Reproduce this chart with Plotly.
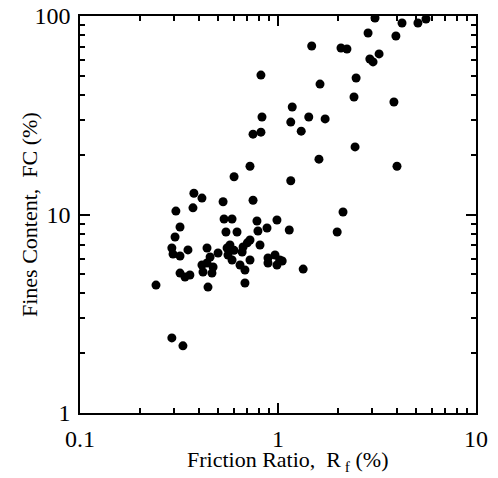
import plotly.graph_objects as go

# friction ratio Rf (%) vs fines content FC (%)
rf = [3.09, 4.23, 5.09, 5.59, 2.85, 3.94, 1.48, 2.08, 2.23, 3.24,
      2.91, 3.02, 0.82, 2.48, 1.63, 2.42, 3.85, 1.18, 0.83, 1.16,
      1.43, 1.73, 0.748, 0.82, 1.31, 2.45, 1.61, 0.722, 3.99, 0.60,
      1.16, 0.376, 0.413, 0.528, 0.748, 0.372, 0.305, 2.13, 0.534, 0.586,
      0.783, 0.988, 0.320, 1.14, 1.99, 0.546, 0.621, 0.88, 0.792, 0.302,
      1.05, 1.34, 0.291, 0.295, 0.320, 0.351, 0.438, 0.454, 0.498, 0.553,
      0.413, 0.470, 0.418, 0.464, 0.320, 0.359, 0.339, 0.443, 0.242, 0.811,
      0.722, 0.666, 0.572, 0.559, 0.659, 0.586, 0.643, 0.722, 0.681, 0.890,
      0.966, 1.02, 0.890, 0.988, 0.681, 0.291, 0.331, 0.438, 0.60, 0.70]
fc = [97.7, 92.2, 92.2, 96.6, 82.1, 79.3, 70.6, 69.0, 68.2, 64.4,
      60.7, 58.7, 50.4, 48.7, 45.4, 39.1, 36.9, 34.8, 31.0, 29.2,
      31.0, 30.3, 25.4, 26.0, 26.3, 21.9, 19.0, 17.5, 17.5, 15.5,
      14.8, 12.8, 12.1, 11.6, 11.8, 10.8, 10.4, 10.3, 9.49, 9.49,
      9.27, 9.38, 8.65, 8.35, 8.16, 8.16, 8.16, 8.55, 8.26, 7.70,
      5.83, 5.31, 6.78, 6.32, 6.18, 6.63, 6.78, 6.11, 6.40, 6.78,
      5.57, 5.44, 5.13, 5.07, 5.07, 4.96, 4.84, 4.31, 4.41, 7.02,
      7.44, 6.86, 7.02, 6.25, 6.47, 5.90, 5.57, 5.90, 5.25, 6.04,
      6.25, 5.90, 5.70, 5.57, 4.52, 2.39, 2.18, 5.70, 6.60, 7.20]

x_ticks = [0.1, 1, 10]
x_labels = ["0.1", "1", "10"]
y_ticks = [1, 10, 100]
y_labels = ["1", "10", "100"]

FONT = "Liberation Serif, Times New Roman, serif"

fig = go.Figure(go.Scatter(
    x=rf, y=fc, mode="markers",
    marker=dict(color="black", size=9, line=dict(width=0)),
    showlegend=False,
))

axis_common = dict(
    type="log", showgrid=False, zeroline=False, automargin=False,
    showline=True, linecolor="black", linewidth=1.5, mirror="allticks",
    ticks="inside", ticklen=10, tickwidth=2, tickcolor="black",
    minor=dict(dtick="D1", ticks="inside", ticklen=5, tickwidth=1.5,
               tickcolor="black", showgrid=False),
    tickfont=dict(family=FONT, size=24, color="black"),
)
fig.update_xaxes(**axis_common, range=[-1, 1], dtick=1,
                 tickvals=x_ticks, ticktext=x_labels, ticklabelstandoff=3)
fig.update_yaxes(**axis_common, range=[0, 2], dtick=1,
                 tickvals=y_ticks, ticktext=y_labels, ticklabelstandoff=3)

fig.update_layout(
    width=498, height=478,
    margin=dict(l=80, r=22, t=16, b=65),
    paper_bgcolor="white", plot_bgcolor="white",
    annotations=[
        dict(text="Friction Ratio,&nbsp; R<sub>&nbsp;f</sub>&nbsp;(%)",
             xref="paper", yref="paper", x=0.523, y=-0.122,
             xanchor="center", yanchor="middle", showarrow=False,
             font=dict(family=FONT, size=22, color="black")),
        dict(text="Fines Content,&nbsp; FC (%)", textangle=-90,
             xref="paper", yref="paper", x=-0.126, y=0.499,
             xanchor="center", yanchor="middle", showarrow=False,
             font=dict(family=FONT, size=22, color="black")),
    ],
)

fig.write_html("out.html", config={"displayModeBar": False},
               post_script="document.body.style.margin='0';")
